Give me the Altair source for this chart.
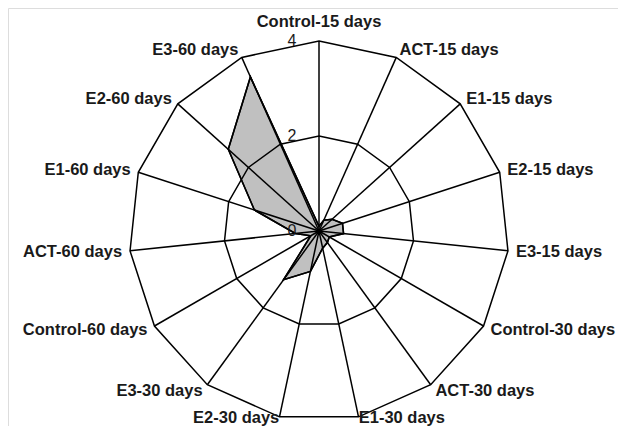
import math
import altair as alt
import pandas as pd

# ---- data ----
categories = [
    "Control-15 days", "ACT-15 days", "E1-15 days", "E2-15 days", "E3-15 days",
    "Control-30 days", "ACT-30 days", "E1-30 days", "E2-30 days", "E3-30 days",
    "Control-60 days", "ACT-60 days", "E1-60 days", "E2-60 days", "E3-60 days",
]
values = [0.1, 0.25, 0.37, 0.52, 0.52, 0.25, 0.3, 0.37, 0.87, 1.27,
          0.2, 0.5, 1.43, 2.57, 3.55]
grid_levels = [2, 4]
tick_values = [4, 2, 0]
tick_labels = ["4", "2", "0"]

# ---- layout ----
PX = 47.5            # pixels per value unit
W, H = 610, 418
CX, CY = 311, 223    # centre inside plot area
RMAX = 4
n = len(categories)

xdom = [-CX / PX, (W - CX) / PX]
ydom = [-(H - CY) / PX, CY / PX]
xs = alt.Scale(domain=xdom, nice=False, zero=False)
ys = alt.Scale(domain=ydom, nice=False, zero=False)

def ang(i):
    return 2 * math.pi * i / n

poly = pd.DataFrame({
    "idx": list(range(n)),
    "x": [v * math.sin(ang(i)) for i, v in enumerate(values)],
    "y": [v * math.cos(ang(i)) for i, v in enumerate(values)],
})

rings = pd.DataFrame([
    {"level": lv, "idx": i, "x": lv * math.sin(ang(i)), "y": lv * math.cos(ang(i))}
    for lv in grid_levels for i in range(n)
])

spokes = pd.DataFrame({
    "x0": [0.0] * n, "y0": [0.0] * n,
    "x": [RMAX * math.sin(ang(i)) for i in range(n)],
    "y": [RMAX * math.cos(ang(i)) for i in range(n)],
})

lab_rows = []
for i, c in enumerate(categories):
    s, co = math.sin(ang(i)), math.cos(ang(i))
    if abs(s) < 0.1:
        al = "center"
        r = RMAX + 11 / PX
        bl = "bottom" if co > 0 else "top"
    else:
        al = "left" if s > 0 else "right"
        r = RMAX + (1 if co < -0.9 else 8) / PX
        bl = "middle"
    lab_rows.append({"cat": c, "x": r * s, "y": r * co, "al": al, "bl": bl})
labs = pd.DataFrame(lab_rows)

ticks = pd.DataFrame({
    "lab": tick_labels,
    "x": [-27 / PX] * len(tick_values),
    "y": [float(t) for t in tick_values],
})

X = lambda f: alt.X(f, type="quantitative", scale=xs, axis=None)
Y = lambda f: alt.Y(f, type="quantitative", scale=ys, axis=None)

fill = alt.Chart(poly).mark_line(
    interpolate="linear-closed", fill="#c0c0c0", stroke="#000000", strokeWidth=1.5
).encode(x=X("x"), y=Y("y"), order=alt.Order("idx:Q"))

ring = alt.Chart(rings).mark_line(
    interpolate="linear-closed", stroke="#000000", strokeWidth=1.5
).encode(x=X("x"), y=Y("y"), detail="level:N", order=alt.Order("idx:Q"))

spoke = alt.Chart(spokes).mark_rule(stroke="#000000", strokeWidth=1.5).encode(
    x=X("x0"), y=Y("y0"), x2="x", y2="y"
)

outline = alt.Chart(poly).mark_line(
    interpolate="linear-closed", stroke="#000000", strokeWidth=1.5
).encode(x=X("x"), y=Y("y"), order=alt.Order("idx:Q"))

text_layers = []
for al in ["left", "right", "center"]:
    for bl in ["middle", "bottom", "top"]:
        sub = labs[(labs.al == al) & (labs.bl == bl)]
        if len(sub) == 0:
            continue
        text_layers.append(
            alt.Chart(sub).mark_text(
                align=al, baseline=bl, font="Liberation Sans", fontSize=16.5,
                fontWeight="bold", color="#1a1a1a"
            ).encode(x=X("x"), y=Y("y"), text="cat:N")
        )

tick_text = alt.Chart(ticks).mark_text(
    align="center", baseline="middle", font="Liberation Sans", fontSize=16,
    color="#1a1a1a"
).encode(x=X("x"), y=Y("y"), text="lab:N")

chart = alt.layer(fill, ring, spoke, outline, *text_layers, tick_text).properties(
    width=W, height=H, padding=0, autosize=alt.AutoSizeParams(type="none")
).configure_view(strokeWidth=0).configure(background="white")

chart.save("out.html", embed_options={"renderer": "svg", "actions": False})
